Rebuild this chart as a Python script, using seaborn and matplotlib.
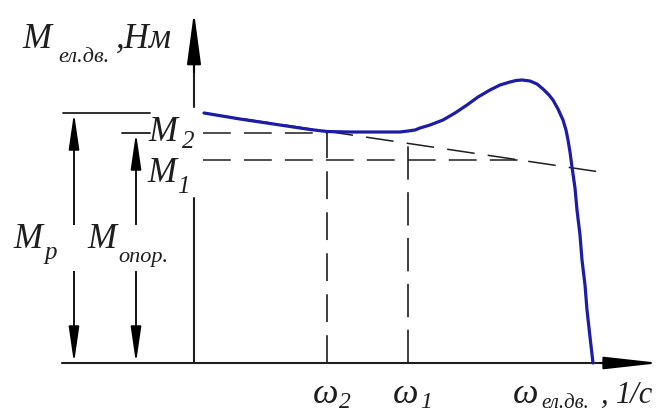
import matplotlib
matplotlib.use("Agg")
import matplotlib.pyplot as plt
import numpy as np
import pandas as pd
import seaborn as sns

# Motor torque-speed characteristic (omega in 1/s, torque in N*m, schematic units)
omega = [10, 46, 86, 116, 133, 156, 186, 206, 214, 221, 226, 236, 249, 261,
         273, 284, 296, 306, 316, 322, 328, 336, 343, 349, 355, 359, 364, 369,
         372, 374, 376, 378, 381, 383, 386, 388, 391, 393, 396, 399]
torque = [250, 244, 238, 233.5, 231.5, 231, 231, 231, 232, 233, 235, 238,
          243, 250, 258, 266, 273, 278, 281, 282.5, 283, 282, 279, 274, 268,
          263, 254, 243, 233, 223, 211, 196, 175, 153, 128, 103, 78, 53, 26, 0]

# Characteristic levels
M_p = 250        # starting torque
M_2 = 230        # torque at omega_2
M_1 = 203        # torque at omega_1
omega_2 = 133
omega_1 = 214

# Resistance (load) characteristic: straight line through two points
load_omega = [10, 406]
load_torque = [250, 191]

# Axes extent
x_axis = (-132, 466)
y_axis_top = 351
y_axis_gap = (165, 256)
dim_x_p = -120
dim_x_op = -58

BLUE = "#1c1ca8"
INK = "#1e1e1e"

sns.set_theme(style="white")
plt.rcParams["font.family"] = ["Liberation Serif", "DejaVu Serif"]
plt.rcParams["lines.scale_dashes"] = False

fig = plt.figure(figsize=(6.67, 4.12), dpi=100)
ax = fig.add_axes([0, 0, 1, 1])

DASH = (0, (20, 9.5))

# Load line
slope = (load_torque[1] - load_torque[0]) / (load_omega[1] - load_omega[0])
ax.plot(load_omega, load_torque, color=INK, lw=1.1, linestyle=DASH, zorder=2)

# Level lines M2 and M1
ax.plot([9, omega_2], [M_2, M_2], color=INK, lw=1.1, linestyle=DASH, zorder=2)
omega_cross = load_omega[0] + (M_1 - load_torque[0]) / slope
ax.plot([9, omega_cross], [M_1, M_1], color=INK, lw=1.1, linestyle=DASH, zorder=2)

# Vertical lines at omega_2 and omega_1
ax.plot([omega_2, omega_2], [0, 231.5], color=INK, lw=1.2, linestyle=DASH, zorder=2)
load_at_w1 = load_torque[0] + slope * (omega_1 - load_omega[0])
ax.plot([omega_1, omega_1], [0, load_at_w1], color=INK, lw=1.2,
        linestyle=(0, (24, 9)), zorder=2)

# Motor characteristic
df = pd.DataFrame({"omega": omega, "torque": torque})
sns.lineplot(data=df, x="omega", y="torque", sort=False, estimator=None,
             color=BLUE, lw=2.3, ax=ax, zorder=5)
ax.lines[-1].set_solid_joinstyle("round")
ax.set_xlim(-194, 473)
ax.set_ylim(-49, 363)
ax.axis("off")

# Axes with arrows
ax.plot([x_axis[0], x_axis[1] - 30], [0, 0], color=INK, lw=1.5, zorder=3)
ax.annotate("", xy=(x_axis[1], 0), xytext=(x_axis[1] - 60, 0),
            arrowprops=dict(arrowstyle="-|>,head_length=34,head_width=3.8",
                            mutation_scale=1, color="black", lw=1.5,
                            shrinkA=0, shrinkB=0), zorder=6)
ax.plot([0, 0], [0, y_axis_gap[0]], color=INK, lw=1.5, zorder=3)
ax.plot([0, 0], [y_axis_gap[1], y_axis_top - 30], color=INK, lw=1.5, zorder=3)
ax.annotate("", xy=(0, y_axis_top), xytext=(0, y_axis_top - 60),
            arrowprops=dict(arrowstyle="-|>,head_length=32,head_width=4.3",
                            mutation_scale=1, color="black", lw=1.5,
                            shrinkA=0, shrinkB=0), zorder=6)

# Dimension lines for M_p and M_opor
ax.plot([-131, -44], [M_p, M_p], color=INK, lw=1.3, zorder=3)
ax.plot([-72, -44], [M_2, M_2], color=INK, lw=1.3, zorder=3)
for xd, top in [(dim_x_p, M_p), (dim_x_op, M_2)]:
    ax.annotate("", xy=(xd, top), xytext=(xd, 0),
                arrowprops=dict(arrowstyle="<|-|>,head_length=22,head_width=3.2",
                                mutation_scale=1, color="black", lw=1.3,
                                shrinkA=0, shrinkB=0), zorder=3)
# gaps behind the dimension labels
for xd in (dim_x_p, dim_x_op):
    ax.plot([xd, xd], [92, 138], color="white", lw=6, zorder=4,
            solid_capstyle="butt")


def put(x, y, s, size):
    ax.text(x, y, s, fontsize=size, style="italic", ha="left", va="baseline",
            color=INK, zorder=7)


BIG = 25
SUB = 16
# Y axis label
put(-172, 315, "M", BIG)
put(-136, 301, "ел.дв.", SUB)
put(-78, 315, ",Нм", BIG)
# Dimension labels
put(-181, 115, "M", BIG)
put(-150, 104, "p", SUB + 2)
put(-107, 115, "M", BIG)
put(-76, 101, "опор.", SUB)
# Level labels
put(-46, 222, "M", BIG)
put(-12, 215, "2", SUB + 2)
put(-47, 181, "M", BIG)
put(-17, 170, "1", SUB + 2)
# Omega labels
WS = 26
put(119, -40, "ω", WS)
put(145, -45, "2", SUB + 1)
put(199, -40, "ω", WS)
put(226, -45, "1", SUB + 1)
put(319, -40, "ω", WS)
put(347, -45, "ел.дв.", SUB - 1)
put(407, -40, ",", BIG - 3)
put(422, -40, "1/c", BIG - 3)

fig.savefig("out.png", dpi=100, facecolor="white")
